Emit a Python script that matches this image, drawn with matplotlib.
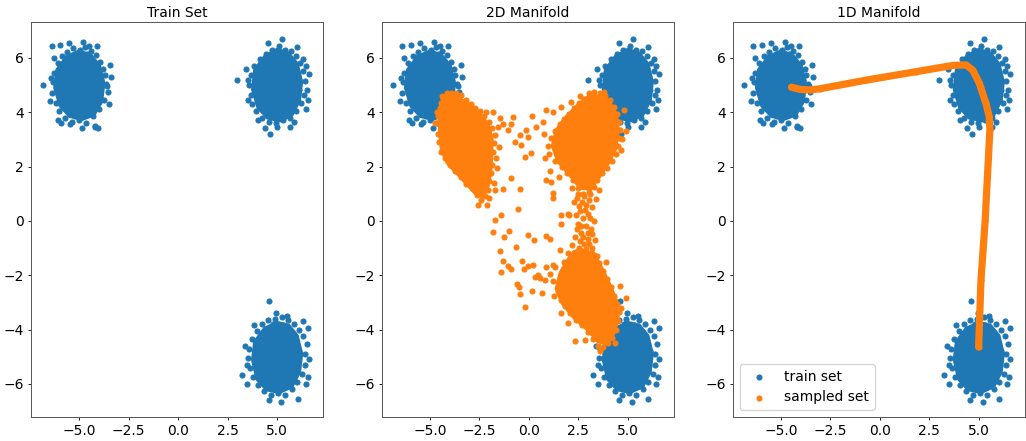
import matplotlib
matplotlib.use("Agg")
import matplotlib.pyplot as plt

BLUE = "#1f77b4"
ORANGE = "#ff7f0e"

titles = ["Train Set", "2D Manifold", "1D Manifold"]
legend_labels = ["train set", "sampled set"]
xticks = [-5.0, -2.5, 0.0, 2.5, 5.0]
yticks = [-6, -4, -2, 0, 2, 4, 6]

# ---- train set: dense cores (outline of solid region) ----
train_core_A = [(-5.0, 6.32), (-4.37, 6.15), (-3.91, 5.75), (-3.68, 5.06), (-3.79, 4.37), (-4.2, 3.85),
                (-4.83, 3.68), (-5.52, 3.79), (-6.04, 4.2), (-6.32, 4.89), (-6.21, 5.58), (-5.69, 6.09)]
train_core_B = [(5.0, 6.38), (5.63, 6.21), (6.09, 5.81), (6.32, 5.12), (6.21, 4.42), (5.81, 3.85),
                (5.17, 3.62), (4.48, 3.73), (3.96, 4.14), (3.68, 4.83), (3.79, 5.58), (4.31, 6.09)]
train_core_C = [(5.0, -3.68), (5.63, -3.79), (6.09, -4.2), (6.32, -4.89), (6.21, -5.58), (5.81, -6.15),
                (5.12, -6.38), (4.43, -6.27), (3.91, -5.86), (3.68, -5.12), (3.79, -4.43), (4.31, -3.91)]

# ---- train set: individual points around the cores ----
train_points = [
    # cluster A
    (-3.65, 5.05), (-3.72, 5.35), (-3.55, 4.75), (-3.8, 5.6), (-3.95, 5.85), (-4.15, 6.1), (-4.4, 6.25),
    (-4.7, 6.4), (-4.95, 6.3), (-5.3, 6.35), (-5.6, 6.2), (-5.85, 6.05), (-6.1, 5.8), (-6.3, 5.45),
    (-6.35, 5.1), (-6.4, 4.7), (-6.2, 4.35), (-6.0, 4.05), (-5.7, 3.8), (-5.35, 3.65), (-5.0, 3.7),
    (-4.65, 3.6), (-4.3, 3.85), (-4.0, 4.1), (-3.75, 4.45), (-3.4, 5.3), (-3.5, 4.3), (-4.1, 6.45),
    (-4.8, 6.6), (-5.5, 6.55), (-6.3, 6.0), (-6.85, 5.0), (-6.5, 4.4), (-5.9, 3.6), (-4.85, 3.4),
    (-4.2, 3.5), (-3.45, 5.75), (-3.9, 5.2), (-4.05, 4.5), (-6.1, 4.7), (-6.0, 5.4), (-4.6, 6.15),
    (-5.2, 3.85), (-4.4, 4.0), (-5.7, 6.0), (-6.4, 6.44), (-5.97, 6.47), (-4.2, 3.46), (-4.03, 3.42),
    (-6.06, 3.71), (-3.6, 4.95), (-6.45, 5.25), (-5.45, 3.55), (-4.5, 6.45),
    # cluster B
    (6.4, 5.15), (6.5, 4.8), (6.3, 5.5), (6.15, 5.8), (5.95, 6.05), (5.7, 6.25), (5.4, 6.3), (5.1, 6.45),
    (4.75, 6.3), (4.45, 6.15), (4.15, 5.95), (3.85, 5.7), (3.7, 5.35), (3.6, 5.0), (3.7, 4.65),
    (3.75, 4.3), (3.95, 4.05), (4.25, 3.8), (4.6, 3.65), (4.95, 3.6), (5.3, 3.7), (5.65, 3.8),
    (5.95, 4.05), (6.2, 4.35), (6.35, 4.65), (6.6, 5.4), (6.55, 4.45), (5.25, 6.7), (4.55, 6.55),
    (6.0, 6.4), (3.45, 5.6), (2.97, 5.18), (3.55, 4.45), (4.4, 3.4), (4.65, 3.2), (5.67, 3.46),
    (6.3, 5.95), (6.1, 4.8), (3.9, 5.1), (5.5, 6.05), (4.7, 3.9), (6.0, 4.5), (4.1, 5.55), (5.2, 3.85),
    (4.85, 6.15), (6.45, 4.1), (5.85, 3.65), (4.05, 3.7), (3.55, 5.2), (6.45, 5.7), (5.0, 3.45),
    # cluster C
    (6.4, -4.9), (6.5, -4.55), (6.3, -4.25), (6.58, -3.95), (6.1, -4.0), (5.85, -3.8), (5.55, -3.65),
    (5.25, -3.55), (4.9, -3.6), (4.55, -3.65), (4.25, -3.8), (4.0, -4.05), (3.75, -4.35), (3.6, -4.7),
    (3.55, -5.05), (3.65, -5.4), (3.8, -5.75), (4.05, -6.05), (4.35, -6.25), (4.7, -6.4), (5.05, -6.35),
    (5.4, -6.4), (5.75, -6.2), (6.0, -5.95), (6.25, -5.65), (6.4, -5.3), (6.6, -5.1), (6.04, -6.55),
    (4.57, -6.6), (3.22, -5.69), (4.6, -2.96), (5.5, -3.5), (3.4, -4.6), (3.5, -6.0), (6.55, -5.75),
    (5.2, -6.65), (6.1, -4.8), (3.9, -5.2), (5.3, -3.85), (4.5, -6.1), (5.9, -5.6), (4.15, -4.3),
    (5.6, -6.05), (4.8, -3.8), (6.3, -3.7), (3.85, -3.85), (3.5, -5.3), (6.45, -6.0), (4.95, -3.4),
]

# ---- 2D manifold samples: dense cores ----
manifold2d_core_left = [(-4.25, 4.62), (-3.6, 4.62), (-3.0, 4.35), (-2.45, 4.0), (-2.0, 3.6), (-1.78, 3.05),
                        (-1.8, 2.4), (-1.85, 1.8), (-2.0, 1.2), (-2.3, 0.8), (-2.75, 0.95), (-3.25, 1.35),
                        (-3.75, 1.75), (-4.2, 2.1), (-4.5, 2.6), (-4.6, 3.3), (-4.6, 3.9), (-4.5, 4.35)]
manifold2d_core_right = [(3.0, 4.65), (3.65, 4.65), (4.15, 4.4), (4.5, 3.95), (4.6, 3.3), (4.45, 2.6),
                         (4.05, 2.05), (3.6, 1.55), (3.15, 1.1), (2.55, 1.15), (2.0, 1.65), (1.4, 2.15),
                         (1.1, 2.75), (1.3, 3.35), (1.8, 3.85), (2.4, 4.3)]
manifold2d_core_bottom = [(2.2, -1.1), (3.3, -1.1), (3.75, -1.7), (4.15, -2.3), (4.5, -2.9), (4.6, -3.6),
                          (4.35, -4.2), (3.95, -4.6), (3.45, -4.5), (2.9, -4.05), (2.2, -3.6), (1.6, -3.05),
                          (1.3, -2.5), (1.5, -1.9), (1.85, -1.45)]

# ---- 2D manifold samples: individual points ----
manifold2d_points = [
    # left blob rim
    (-4.15, 4.7), (-3.95, 4.72), (-3.7, 4.7), (-3.45, 4.65), (-4.35, 4.5), (-3.2, 4.45), (-2.95, 4.3),
    (-2.7, 4.15), (-2.45, 4.05), (-2.25, 3.85), (-2.0, 3.65), (-1.85, 3.4), (-1.7, 3.15), (-1.75, 2.85),
    (-1.8, 2.55), (-1.65, 2.3), (-1.85, 2.05), (-1.9, 1.75), (-2.0, 1.45), (-2.05, 1.15), (-2.2, 0.9),
    (-2.4, 0.75), (-2.1, 0.6), (-2.6, 0.95), (-2.9, 1.2), (-3.2, 1.35), (-3.45, 1.6), (-3.75, 1.85),
    (-4.0, 2.05), (-4.25, 2.3), (-4.45, 2.55), (-4.55, 2.9), (-4.6, 3.2), (-4.55, 3.55), (-4.6, 3.85),
    (-4.5, 4.15), (-4.45, 4.35), (-4.76, 3.59),
    (-1.55, 3.45), (-1.5, 2.7), (-1.6, 1.95), (-1.75, 1.4), (-2.0, 0.85), (-2.55, 0.6), (-4.65, 4.0),
    (-4.4, 4.6),
    # right blob rim
    (3.05, 4.7), (3.3, 4.75), (3.6, 4.7), (3.85, 4.6), (2.8, 4.5), (4.1, 4.45), (2.55, 4.35), (4.3, 4.2),
    (2.3, 4.15), (4.45, 3.95), (2.05, 3.95), (4.55, 3.65), (1.8, 3.75), (4.6, 3.35), (1.55, 3.55),
    (4.55, 3.05), (1.3, 3.3), (4.5, 2.75), (1.1, 3.05), (4.4, 2.45), (0.95, 2.75), (4.2, 2.2), (1.0, 2.45),
    (3.95, 1.95), (1.3, 2.2), (3.7, 1.75), (1.65, 2.0), (3.45, 1.5), (1.95, 1.75), (3.3, 1.25), (2.25, 1.5),
    (3.05, 1.05), (2.5, 1.2), (2.75, 1.0), (4.83, 4.08), (4.92, 3.32),
    (0.75, 3.2), (0.8, 2.3), (1.05, 1.85), (1.5, 1.6), (4.7, 3.0), (4.65, 2.6), (3.8, 4.75), (2.6, 4.6),
    # bottom blob rim
    (2.5, -1.1), (2.9, -1.05), (3.3, -1.25), (3.55, -1.55), (2.2, -1.4), (3.75, -1.85), (1.95, -1.7),
    (3.95, -2.15), (1.7, -2.0), (4.15, -2.45), (1.5, -2.3), (4.3, -2.75), (1.45, -2.6), (4.45, -3.05),
    (1.6, -2.9), (4.55, -3.35), (1.85, -3.15), (4.5, -3.7), (2.1, -3.4), (4.4, -4.0), (2.4, -3.65),
    (4.2, -4.3), (2.7, -3.85), (4.0, -4.5), (3.0, -4.1), (3.75, -4.65), (3.25, -4.35), (3.5, -4.6),
    (4.35, -4.48), (4.89, -2.84), (2.32, -4.42), (1.2, -2.2), (1.05, -1.95),
    (1.3, -1.7), (1.25, -2.75), (1.6, -3.4), (2.0, -3.75), (4.65, -3.2), (4.6, -2.4), (3.9, -1.5),
    (3.6, -4.8), (2.85, -4.4),
    # stream between right and bottom blobs
    (2.5, 1.0), (2.8, 0.9), (3.1, 1.0), (2.3, 0.7), (2.9, 0.6), (3.2, 0.5), (2.6, 0.35), (3.0, 0.25),
    (2.75, 0.1), (3.3, 0.0), (2.5, -0.1), (2.9, -0.2), (3.15, -0.3), (2.65, -0.45), (2.35, -0.6),
    (3.0, -0.65), (3.35, -0.7), (2.8, -0.85), (2.2, -0.9), (2.55, -1.0), (3.2, -1.0), (2.0, -1.2),
    (2.9, -1.25), (3.45, -1.3), (2.4, -1.35), (1.8, -1.5), (2.05, 0.2), (3.4, 0.8), (2.2, 1.2), (3.55, 1.15),
    (2.45, 0.85), (2.7, 0.7), (3.05, 0.75), (2.55, 0.55), (2.85, 0.4), (2.4, 0.2), (3.1, 0.1), (2.65, -0.2),
    (3.0, -0.45), (2.45, -0.3), (2.75, -0.6), (3.2, -0.5), (2.6, -0.75), (2.35, -1.15), (3.05, -0.85),
    (2.7, -1.1),
    # sparse samples in between
    (-1.73, 0.03), (-1.39, 0.21), (-1.82, -0.4), (-1.01, -0.38), (-1.28, -0.61), (-0.05, -0.53),
    (0.24, -0.71), (-0.64, -0.98), (-1.45, -1.12), (-1.31, -1.48), (-1.39, -1.88), (-0.89, -1.78),
    (-1.08, -1.67), (-0.35, -1.48), (-0.25, -1.76), (-0.02, -1.66), (0.2, -1.63), (-0.59, -2.31),
    (-0.5, -2.43), (-0.47, -2.71), (0.15, -2.59), (0.66, -2.65), (-0.22, -3.17), (0.88, -0.57),
    (1.05, -0.65), (0.84, -1.69), (1.21, -1.63), (0.46, -2.0), (0.54, -2.12), (0.79, -2.19), (0.29, -2.06),
    (1.55, -1.08), (1.63, -0.1), (1.63, 0.21), (1.97, 0.27), (1.21, 1.01), (1.21, 0.83), (1.13, 1.44),
    (0.88, 1.5), (-0.55, 0.42), (-0.89, 1.56), (-1.31, 1.19), (-1.73, 1.13), (-0.47, 1.19),
    (0.17, 3.86), (-0.13, 3.34), (-0.05, 3.1), (0.37, 3.46), (0.71, 3.65), (0.88, 4.08), (1.21, 4.02),
    (1.63, 4.2), (2.14, 4.39), (-2.15, 4.02), (-1.82, 4.02), (-1.48, 3.77), (-0.8, 3.83), (-0.89, 3.58),
    (-1.31, 3.58), (-1.06, 3.34), (-0.47, 3.15), (-0.72, 2.91), (-0.39, 2.79), (-0.22, 2.36), (0.12, 2.48),
]

# ---- 1D manifold samples (dense chain of points) ----
manifold1d_x = [-4.47, -4.05, -3.54, -3.04, -0.69, 1.83, 3.68, 4.35, 4.69, 5.03, 5.36, 5.53, 5.56, 5.32, 5.11, 4.99]
manifold1d_y = [4.92, 4.84, 4.82, 4.86, 5.18, 5.49, 5.72, 5.74, 5.55, 5.06, 4.33, 3.83, 3.34, 0.0, -2.18, -4.64]

W, H = 1026, 441
fig = plt.figure(figsize=(W / 100, H / 100), dpi=100)
lefts = [31, 381.7, 732.7]
axes = [fig.add_axes([l / W, 1 - 417 / H, 292 / W, (417 - 21.7) / H]) for l in lefts]

S = 13
LW = 0.8


def draw_train(ax):
    for core in (train_core_A, train_core_B, train_core_C):
        cx, cy = zip(*core)
        ax.fill(cx, cy, color=BLUE, lw=0, zorder=1)
    px, py = zip(*train_points)
    return ax.scatter(px, py, s=S, color=BLUE, linewidths=LW, zorder=2, label=legend_labels[0])


for ax, title in zip(axes, titles):
    draw_train(ax)
    ax.set_title(title, fontsize=10, pad=3.5)
    ax.set_xlim(-7.44, 7.32)
    ax.set_ylim(-7.22, 7.33)
    ax.set_xticks(xticks)
    ax.set_yticks(yticks)
    ax.tick_params(labelsize=10, length=2.5, width=0.6, pad=2.4)
    for sp in ax.spines.values():
        sp.set_linewidth(0.7)
        sp.set_color("#555555")

# 2D manifold
ax = axes[1]
for core in (manifold2d_core_left, manifold2d_core_right, manifold2d_core_bottom):
    cx, cy = zip(*core)
    ax.fill(cx, cy, color=ORANGE, lw=0, zorder=3)
ox, oy = zip(*manifold2d_points)
ax.scatter(ox, oy, s=S, color=ORANGE, linewidths=LW, zorder=4)

# 1D manifold
ax = axes[2]
ax.plot(manifold1d_x, manifold1d_y, color=ORANGE, lw=5.2, solid_capstyle="round",
        solid_joinstyle="round", zorder=3)
ax.scatter(manifold1d_x, manifold1d_y, s=S, color=ORANGE, linewidths=LW, zorder=4, label=legend_labels[1])
ax.legend(loc="lower left", fontsize=10)

fig.savefig("out.png", dpi=100)
